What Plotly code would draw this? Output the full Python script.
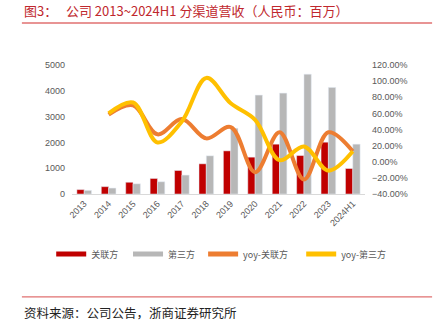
import plotly.graph_objects as go

years = ["2013", "2014", "2015", "2016", "2017", "2018", "2019", "2020", "2021", "2022", "2023", "2024H1"]
related = [170, 285, 455, 602, 911, 1170, 1672, 1428, 1931, 1490, 2008, 988]
third = [140, 230, 395, 475, 733, 1479, 2548, 3834, 3911, 4645, 4131, 1931]
yoy_years = years[1:]
yoy_related = [0.585, 0.70, 0.34, 0.53, 0.29, 0.43, -0.13, 0.365, -0.22, 0.365, 0.13]
yoy_third = [0.60, 0.735, 0.24, 0.50, 1.04, 0.725, 0.52, 0.02, 0.19, -0.11, 0.13]

RED = "#C00000"
GRAY = "#B7B7B7"
ORANGE = "#ED7D31"
YELLOW = "#FFC000"
TXT = "#595959"
NUMF = "Liberation Sans, Arial, sans-serif"
CJK = "Noto Sans CJK SC, sans-serif"

fig = go.Figure()
fig.add_trace(go.Bar(x=years, y=related, marker_color=RED, name="关联方", showlegend=False))
fig.add_trace(go.Bar(x=years, y=third, marker_color=GRAY, name="第三方", showlegend=False))
fig.add_trace(go.Scatter(x=yoy_years, y=yoy_related, yaxis="y2", mode="lines",
                         line=dict(color=ORANGE, width=4, shape="spline", smoothing=1.0),
                         name="yoy-关联方", showlegend=False))
fig.add_trace(go.Scatter(x=yoy_years, y=yoy_third, yaxis="y2", mode="lines",
                         line=dict(color=YELLOW, width=4, shape="spline", smoothing=1.0),
                         name="yoy-第三方", showlegend=False))

# legend proxies, one legend each so entries sit where the original has them
legend_names = ["legend", "legend2", "legend3", "legend4"]
legend_x = [0.118, 0.295, 0.468, 0.694]
for nm, col, lg in zip(["关联方", "第三方", "yoy-关联方", "yoy-第三方"],
                       [RED, GRAY, ORANGE, YELLOW], legend_names):
    fig.add_trace(go.Scatter(x=[None], y=[None], mode="lines", name=nm, legend=lg,
                             line=dict(color=col, width=5)))

legend_style = dict(orientation="h", xref="container", yref="container", xanchor="left",
                    y=0.2256, yanchor="middle", font=dict(family=CJK, size=9, color=TXT),
                    itemwidth=30, bgcolor="rgba(0,0,0,0)")

fig.update_layout(
    width=434, height=328,
    margin=dict(l=72, r=69, t=65, b=134),
    paper_bgcolor="white", plot_bgcolor="white",
    barmode="group", bargap=0.4, bargroupgap=0,
    font=dict(family=NUMF, size=9, color=TXT),
    xaxis=dict(type="category", tickangle=-45, showline=True, linecolor="#D9D9D9",
               linewidth=1, ticks="", showgrid=False, tickfont=dict(size=9, color=TXT)),
    yaxis=dict(range=[0, 5000], dtick=1000, showgrid=False, showline=False, ticks="",
               zeroline=False, tickfont=dict(size=9, color=TXT), ticklabelstandoff=6),
    yaxis2=dict(range=[-0.4, 1.2], dtick=0.2, tickformat=".2%", overlaying="y", side="right",
                showgrid=False, showline=False, zeroline=False, ticks="",
                tickfont=dict(size=9, color=TXT), ticklabelstandoff=6),
    showlegend=True,
)
for lg, lx in zip(legend_names, legend_x):
    fig.update_layout({lg: dict(legend_style, x=lx)})

fig.add_annotation(text="图3：   公司 2013~2024H1 分渠道营收（人民币：百万）", xref="paper", yref="paper",
                   x=-0.171, y=1.419, xanchor="left", yanchor="middle", showarrow=False,
                   font=dict(family=CJK, size=13, color="#C0272D"))
fig.add_shape(type="line", xref="paper", yref="paper", x0=-0.171, x1=1.229, y0=1.326, y1=1.326,
              line=dict(color="#E07070", width=1.5))
fig.add_shape(type="line", xref="paper", yref="paper", x0=-0.171, x1=1.229, y0=-0.798, y1=-0.798,
              line=dict(color="#E07070", width=1.2))
fig.add_annotation(text="资料来源：公司公告，浙商证券研究所", xref="paper", yref="paper",
                   x=-0.171, y=-0.915, xanchor="left", yanchor="middle", showarrow=False,
                   font=dict(family=CJK, size=12.5, color="#222222"))

fig.write_html("out.html")
